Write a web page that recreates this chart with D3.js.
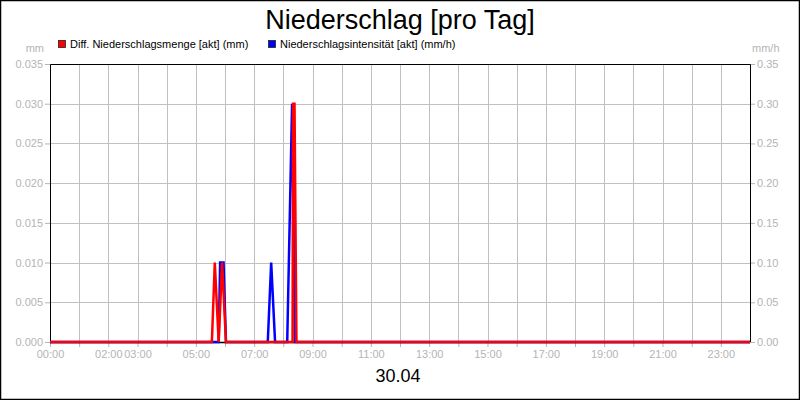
<!DOCTYPE html>
<html>
<head>
<meta charset="utf-8">
<script src="https://cdn.jsdelivr.net/npm/d3@7"></script>
<style>
  body { margin: 0; background: #fff; }
  svg { display: block; font-family: "Liberation Sans", Arial, sans-serif; }
</style>
</head>
<body>
<svg id="chart" width="800" height="400"></svg>
<script>
// chart data, times as "HH:MM"
const title = 'Niederschlag [pro Tag]';
const dateLabel = '30.04';
const seriesNames = ['Diff. Niederschlagsmenge [akt] (mm)', 'Niederschlagsintensität [akt] (mm/h)'];
const leftUnit = 'mm';
const rightUnit = 'mm/h';
const leftTicks = [0, 0.005, 0.01, 0.015, 0.02, 0.025, 0.03, 0.035];
const rightTicks = [0, 0.05, 0.1, 0.15, 0.2, 0.25, 0.3, 0.35];
const xTickLabels = ['00:00', '02:00', '03:00', '05:00', '07:00', '09:00', '11:00', '13:00', '15:00', '17:00', '19:00', '21:00', '23:00'];

const mengeTimes = ['00:00', '05:33', '05:39', '05:47', '05:54', '06:02', '08:19', '08:20', '08:23', '08:27', '24:00'];
const mengeValues = [0, 0, 0.01, 0, 0.01, 0, 0, 0.03, 0.03, 0, 0];

const intensTimes = ['00:00', '05:47', '05:50', '05:57', '06:02', '07:28', '07:35', '07:43', '08:08', '08:18', '08:24', '24:00'];
const intensValues = [0, 0, 0.1, 0.1, 0, 0, 0.1, 0, 0, 0.3, 0, 0];

const toHours = t => { const p = t.split(':'); return +p[0] + (+p[1]) / 60; };

const svg = d3.select('#chart');
const margin = { left: 50, right: 50, top: 64, bottom: 58 };
const width = 800, height = 400;
const grey = '#b4b4b4';

const x = d3.scaleLinear().domain([0, 24]).range([margin.left, width - margin.right]);
const yL = d3.scaleLinear().domain([0, 0.035]).range([height - margin.bottom, margin.top]);
const yR = d3.scaleLinear().domain([0, 0.35]).range([height - margin.bottom, margin.top]);

// outer border
svg.append('rect')
    .attr('x', 0.5).attr('y', 0.5)
    .attr('width', width - 1).attr('height', height - 1)
    .attr('fill', '#fff').attr('stroke', '#000').attr('stroke-width', 1.5);

svg.append('text')
    .attr('x', 400).attr('y', 29)
    .attr('text-anchor', 'middle')
    .style('font-size', '27px')
    .text(title);

// grid
const grid = svg.append('g').attr('stroke', '#c0c0c0').attr('stroke-width', 1);
grid.selectAll('line.v')
    .data(d3.range(1, 24))
    .enter().append('line')
    .attr('x1', d => Math.round(x(d)) + 0.5).attr('x2', d => Math.round(x(d)) + 0.5)
    .attr('y1', margin.top).attr('y2', height - margin.bottom);
grid.selectAll('line.h')
    .data(leftTicks.slice(1))
    .enter().append('line')
    .attr('x1', margin.left).attr('x2', width - margin.right)
    .attr('y1', d => Math.round(yL(d)) + 0.5).attr('y2', d => Math.round(yL(d)) + 0.5);

// axes
const axisL = svg.append('g')
    .attr('transform', `translate(${margin.left},0)`)
    .call(d3.axisLeft(yL).tickValues(leftTicks).tickFormat(d3.format('.3f')).tickSize(5).tickPadding(2));
const axisR = svg.append('g')
    .attr('transform', `translate(${width - margin.right},0)`)
    .call(d3.axisRight(yR).tickValues(rightTicks).tickFormat(d3.format('.2f')).tickSize(5).tickPadding(2));
const axisB = svg.append('g')
    .attr('transform', `translate(0,${height - margin.bottom})`)
    .call(d3.axisBottom(x).tickValues(d3.range(0, 24)).tickSize(5).tickPadding(3)
        .tickFormat(d => {
            const s = String(d).padStart(2, '0') + ':00';
            return xTickLabels.includes(s) ? s : '';
        }));

[axisL, axisR, axisB].forEach(a => {
    a.select('.domain').remove();
    a.selectAll('line').attr('stroke', grey);
    a.selectAll('text').attr('fill', grey).style('font-size', '11px').style('font-family', '"Liberation Sans", Arial, sans-serif');
});

svg.append('text').attr('x', 44).attr('y', 52).attr('text-anchor', 'end')
    .attr('fill', grey).style('font-size', '11px').text(leftUnit);
svg.append('text').attr('x', 752).attr('y', 52)
    .attr('fill', grey).style('font-size', '11px').text(rightUnit);

// plot frame
svg.append('path')
    .attr('d', `M${margin.left + 0.5},${height - margin.bottom} V${margin.top + 0.5} H${width - margin.right + 0.5} V${height - margin.bottom}`)
    .attr('fill', 'none').attr('stroke', '#000').attr('stroke-width', 1);
svg.append('line')
    .attr('x1', margin.left).attr('x2', width - margin.right)
    .attr('y1', height - margin.bottom + 0.5).attr('y2', height - margin.bottom + 0.5)
    .attr('stroke', '#000').attr('stroke-width', 1.5);

// series
const intensData = intensTimes.map((t, i) => [toHours(t), intensValues[i]]);
const mengeData = mengeTimes.map((t, i) => [toHours(t), mengeValues[i]]);

svg.append('path')
    .datum(intensData)
    .attr('fill', 'none').attr('stroke', '#0000ff').attr('stroke-width', 2.5)
    .attr('d', d3.line().x(d => x(d[0])).y(d => yR(d[1])));
svg.append('path')
    .datum(mengeData)
    .attr('fill', 'none').attr('stroke', '#ff0000').attr('stroke-width', 2.5)
    .attr('d', d3.line().x(d => x(d[0])).y(d => yL(d[1])));

// legend
const legendX = [58, 268];
const colors = ['#ff0000', '#0000ff'];
const legend = svg.append('g');
seriesNames.forEach((name, i) => {
    legend.append('rect')
        .attr('x', legendX[i] + 0.5).attr('y', 40.5)
        .attr('width', 7).attr('height', 7)
        .attr('fill', colors[i]).attr('stroke', '#222').attr('stroke-width', 0.8);
    legend.append('text')
        .attr('x', legendX[i] + 12).attr('y', 48)
        .style('font-size', '11px')
        .text(name);
});

svg.append('text')
    .attr('x', 398).attr('y', 382)
    .attr('text-anchor', 'middle')
    .style('font-size', '18px')
    .text(dateLabel);
</script>
</body>
</html>
